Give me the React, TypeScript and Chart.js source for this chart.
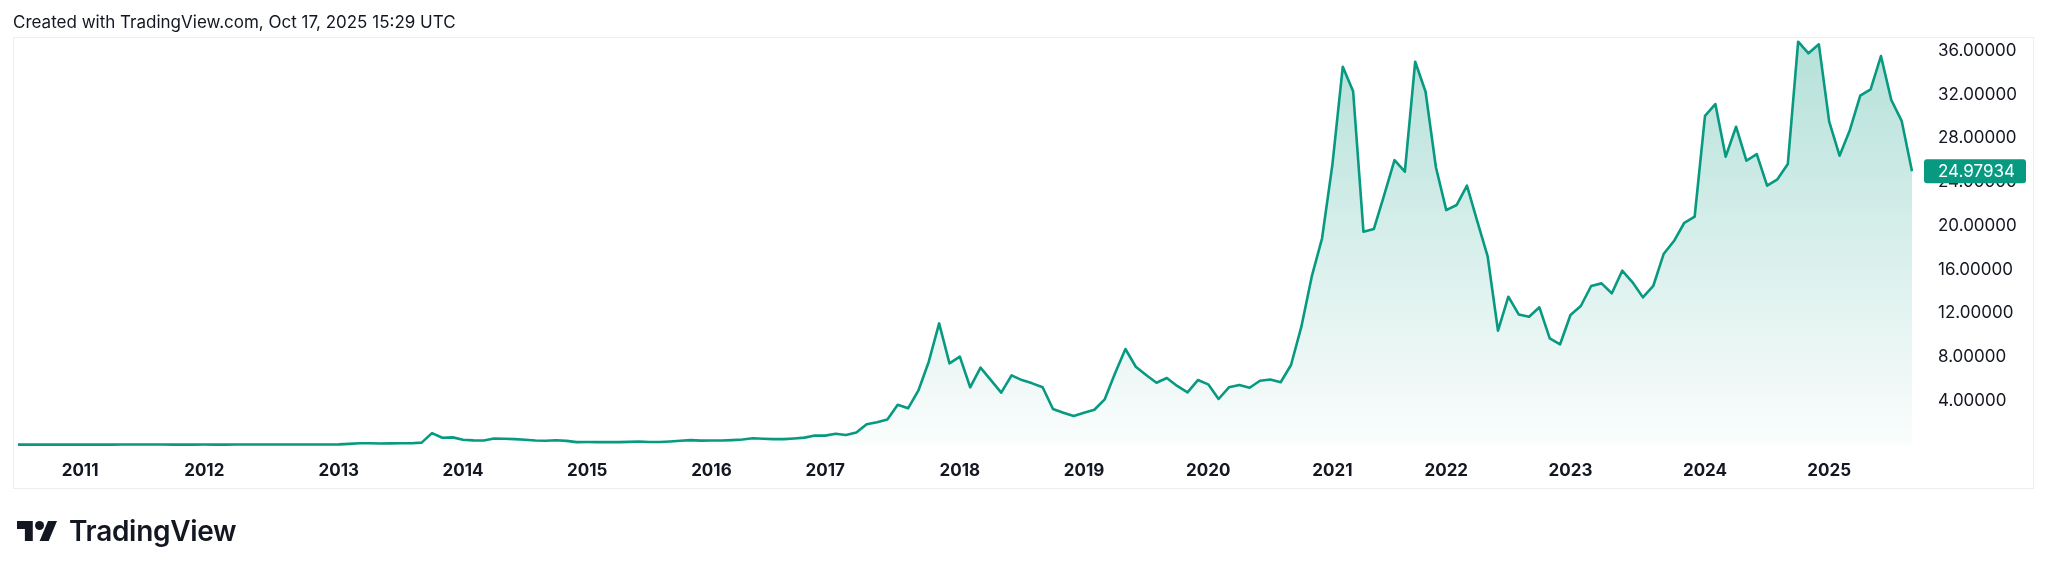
import React, { useEffect, useRef } from 'react';
import { Chart, registerables } from 'chart.js';

Chart.register(...registerables);

// ---- Data: BTC priced in gold, monthly closes ----
const FIRST_YEAR = 2010;
const FIRST_MONTH = 7; // July 2010

const v2010 = [0.0001, 0.0001, 0.0001, 0.0002, 0.0002, 0.0002];
const v2011 = [0.0004, 0.0007, 0.0006, 0.002, 0.006, 0.011, 0.0083, 0.0045, 0.0031, 0.0019, 0.0017, 0.0029];
const v2012 = [0.0033, 0.0028, 0.0029, 0.0031, 0.0032, 0.0042, 0.0058, 0.0061, 0.007, 0.0065, 0.0072, 0.0081];
const v2013 = [0.012, 0.025, 0.07, 0.12, 0.12, 0.1, 0.11, 0.13, 0.13, 0.18, 1.05, 0.63];
const v2014 = [0.66, 0.45, 0.39, 0.38, 0.56, 0.54, 0.5, 0.44, 0.38, 0.35, 0.4, 0.34];
const v2015 = [0.23, 0.24, 0.23, 0.23, 0.23, 0.25, 0.29, 0.24, 0.24, 0.29, 0.35, 0.41];
const v2016 = [0.36, 0.37, 0.37, 0.41, 0.47, 0.58, 0.54, 0.5, 0.5, 0.56, 0.64, 0.83];
const v2017 = [0.82, 0.99, 0.88, 1.1, 1.86, 2.05, 2.3, 3.64, 3.32, 4.95, 7.58, 11.08];
const v2018 = [7.43, 8.04, 5.24, 7.03, 5.9, 4.75, 6.33, 5.9, 5.6, 5.24, 3.25, 2.92];
const v2019 = [2.61, 2.92, 3.19, 4.14, 6.52, 8.74, 7.12, 6.36, 5.66, 6.09, 5.36, 4.78];
const v2020 = [5.9, 5.51, 4.17, 5.24, 5.45, 5.2, 5.84, 5.95, 5.7, 7.28, 10.78, 15.35];
const v2021 = [18.86, 25.6, 34.54, 32.3, 19.46, 19.7, 22.8, 26.0, 24.95, 35.0, 32.26, 25.35];
const v2022 = [21.44, 21.9, 23.67, 20.4, 17.2, 10.41, 13.52, 11.9, 11.69, 12.55, 9.71, 9.17];
const v2023 = [11.85, 12.67, 14.5, 14.74, 13.83, 15.9, 14.84, 13.46, 14.5, 17.42, 18.61, 20.28];
const v2024 = [20.83, 30.06, 31.13, 26.32, 29.06, 25.95, 26.56, 23.67, 24.25, 25.65, 36.83, 35.77];
const v2025 = [36.59, 29.52, 26.41, 28.76, 31.9, 32.48, 35.52, 31.5, 29.6, 24.97934];

const values: number[] = [
  ...v2010, ...v2011, ...v2012, ...v2013, ...v2014, ...v2015, ...v2016, ...v2017,
  ...v2018, ...v2019, ...v2020, ...v2021, ...v2022, ...v2023, ...v2024, ...v2025,
];

// Category labels: one per monthly bar
const months: string[] = values.map((_, i) => {
  const m = FIRST_MONTH - 1 + i;
  const y = FIRST_YEAR + Math.floor(m / 12);
  return `${y}-${String((m % 12) + 1).padStart(2, '0')}`;
});

// Bars carrying the year labels on the time axis (as placed in the reference)
const yearTickMonths = [
  '2011-01', '2012-01', '2013-02', '2014-02', '2015-02', '2016-02', '2017-01', '2018-02',
  '2019-02', '2020-02', '2021-02', '2022-01', '2023-01', '2024-02', '2025-02',
];

const priceTicks = [4, 8, 12, 16, 20, 24, 28, 32, 36];
const Y_MIN = -0.95;
const Y_MAX = 37.17;

const TITLE = 'Created with TradingView.com, Oct 17, 2025 15:29 UTC';
const LINE_COLOR = '#089981';
const TEXT_COLOR = '#131722';
const FONT = 'Inter, "Noto Sans", sans-serif';

const framePlugin = {
  id: 'tvFrame',
  beforeDraw(chart: any) {
    const { ctx } = chart;
    ctx.save();
    ctx.fillStyle = '#ffffff';
    ctx.fillRect(0, 0, chart.width, chart.height);
    ctx.strokeStyle = '#eceef1';
    ctx.lineWidth = 1;
    ctx.strokeRect(13.5, 37.5, 2020, 451);
    ctx.restore();
  },
};

const lastPricePlugin = {
  id: 'tvLastPrice',
  afterDraw(chart: any) {
    const { ctx, chartArea } = chart;
    const yScale = chart.scales.y;
    const last = values[values.length - 1];
    const y = yScale.getPixelForValue(last);
    const x0 = chartArea.right + 12;
    const w = 102;
    const h = 24;
    ctx.save();
    ctx.fillStyle = LINE_COLOR;
    ctx.beginPath();
    if (ctx.roundRect) ctx.roundRect(x0, y - h / 2, w, h, 3);
    else ctx.rect(x0, y - h / 2, w, h);
    ctx.fill();
    ctx.fillStyle = '#ffffff';
    ctx.font = `17px ${FONT}`;
    ctx.textAlign = 'left';
    ctx.textBaseline = 'middle';
    ctx.fillText(last.toFixed(5), chartArea.right + 26, y + 1);
    ctx.restore();
  },
};

function TVLogo() {
  return (
    <div
      style={{
        position: 'absolute',
        left: 17,
        top: 514,
        height: 34,
        display: 'flex',
        alignItems: 'center',
        color: TEXT_COLOR,
      }}
    >
      <svg width={40} height={20.3} viewBox="0 4 35.5 18" style={{ display: 'block' }}>
        <path d="M14 22H7V11H0V4h14v18z" fill={TEXT_COLOR} />
        <circle cx={20} cy={8} r={4} fill={TEXT_COLOR} />
        <path d="M28 22h-8l7.5-18h8L28 22z" fill={TEXT_COLOR} />
      </svg>
      <span
        style={{
          marginLeft: 12,
          fontFamily: FONT,
          fontSize: 28,
          fontWeight: 600,
          lineHeight: '34px',
          letterSpacing: -0.3,
        }}
      >
        TradingView
      </span>
    </div>
  );
}

export default function App() {
  const canvasRef = useRef<HTMLCanvasElement | null>(null);

  useEffect(() => {
    const canvas = canvasRef.current;
    if (!canvas) return;
    const chart = new Chart(canvas, {
      type: 'line',
      data: {
        labels: months,
        datasets: [
          {
            data: values,
            borderColor: LINE_COLOR,
            borderWidth: 2.6,
            borderJoinStyle: 'round',
            pointRadius: 0,
            pointHoverRadius: 0,
            tension: 0,
            fill: 'origin',
            backgroundColor: (c: any) => {
              const ch = c.chart;
              const area = ch.chartArea;
              if (!area) return 'rgba(8,153,129,0.15)';
              const g = ch.ctx.createLinearGradient(0, area.top, 0, ch.scales.y.getPixelForValue(0));
              g.addColorStop(0, 'rgba(8,153,129,0.30)');
              g.addColorStop(1, 'rgba(8,153,129,0.02)');
              return g;
            },
          },
        ],
      },
      options: {
        animation: false,
        responsive: false,
        maintainAspectRatio: false,
        events: [],
        layout: { padding: { left: 18, right: 14, top: 38, bottom: 0 } },
        plugins: {
          legend: { display: false },
          tooltip: { enabled: false },
          title: { display: false },
        },
        scales: {
          x: {
            type: 'category',
            offset: false,
            grid: { display: false, drawTicks: false },
            border: { display: false },
            ticks: {
              autoSkip: false,
              maxRotation: 0,
              minRotation: 0,
              padding: 6,
              color: TEXT_COLOR,
              font: { family: FONT, size: 17, weight: 'bold' },
              callback: function (this: any, value: any) {
                return String(this.getLabelForValue(value)).slice(0, 4);
              },
            },
            afterBuildTicks: (scale: any) => {
              scale.ticks = yearTickMonths.map((m) => ({ value: months.indexOf(m) }));
            },
            afterFit: (scale: any) => {
              scale.height = 119;
            },
          },
          y: {
            type: 'linear',
            position: 'right',
            min: Y_MIN,
            max: Y_MAX,
            grid: { display: false, drawTicks: false },
            border: { display: false },
            ticks: {
              padding: 26,
              color: TEXT_COLOR,
              font: { family: FONT, size: 17 },
              callback: (v: any) => Number(v).toFixed(5),
            },
            afterBuildTicks: (scale: any) => {
              scale.ticks = priceTicks.map((v) => ({ value: v }));
            },
            afterFit: (scale: any) => {
              scale.width = 122;
            },
          },
        },
      } as any,
      plugins: [framePlugin, lastPricePlugin],
    });
    return () => chart.destroy();
  }, []);

  return (
    <div style={{ position: 'absolute', left: 0, top: 0, width: 2048, height: 574, background: '#fff' }}>
      <canvas
        ref={canvasRef}
        width={2048}
        height={574}
        style={{ position: 'absolute', left: 0, top: 0, width: 2048, height: 574 }}
      />
      <div
        style={{
          position: 'absolute',
          left: 13,
          top: 12,
          fontFamily: FONT,
          fontSize: 17,
          lineHeight: '20px',
          color: TEXT_COLOR,
          whiteSpace: 'nowrap',
        }}
      >
        {TITLE}
      </div>
      <TVLogo />
    </div>
  );
}
